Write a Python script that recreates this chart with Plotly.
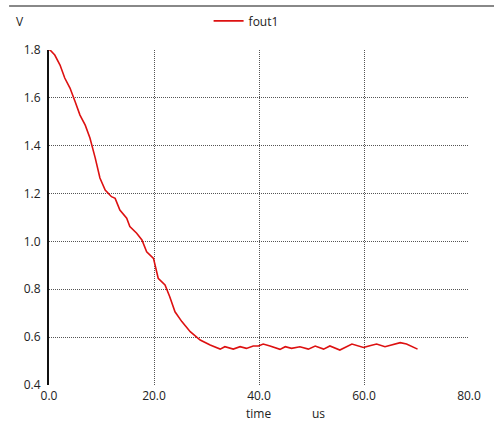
import plotly.graph_objects as go

time_us = [0.0, 0.2, 1.1, 2.1, 3.0, 4.0, 5.0, 5.9, 6.9, 7.8, 8.8, 9.7, 10.7, 11.9, 12.6, 13.5,
           14.8, 15.4, 16.7, 17.7, 18.6, 19.9, 20.8, 22.1, 23.0, 24.0, 25.3, 26.9, 28.8, 30.7,
           32.6, 33.5, 35.1, 36.4, 37.6, 38.9, 39.9, 40.8, 42.1, 44.0, 45.0, 46.2, 47.8, 49.4,
           50.7, 52.3, 53.5, 55.4, 57.7, 59.9, 61.1, 62.4, 64.0, 65.3, 66.9, 68.1, 69.7, 70.2]
fout1 = [1.80, 1.80, 1.779, 1.737, 1.683, 1.641, 1.583, 1.528, 1.486, 1.432, 1.349, 1.265, 1.215,
         1.187, 1.18, 1.131, 1.097, 1.062, 1.034, 1.006, 0.957, 0.929, 0.846, 0.818, 0.769, 0.706,
         0.665, 0.623, 0.588, 0.567, 0.550, 0.560, 0.550, 0.560, 0.553, 0.563, 0.563, 0.571, 0.563,
         0.549, 0.560, 0.553, 0.560, 0.550, 0.563, 0.550, 0.563, 0.546, 0.571, 0.557, 0.564, 0.571,
         0.560, 0.567, 0.577, 0.571, 0.553, 0.550]

x_ticks = [0, 20, 40, 60, 80]
x_tick_labels = ["0.0", "20.0", "40.0", "60.0", "80.0"]
y_ticks = [0.4, 0.6, 0.8, 1.0, 1.2, 1.4, 1.6, 1.8]
y_tick_labels = ["0.4", "0.6", "0.8", "1.0", "1.2", "1.4", "1.6", "1.8"]

FONT = "Open Sans"
TXT = "#222222"

fig = go.Figure()
fig.add_trace(go.Scatter(x=time_us, y=fout1, mode="lines", name="fout1",
                         line=dict(color="#dd1111", width=1.6)))

fig.update_layout(
    width=494, height=424,
    margin=dict(l=49, r=25, t=50, b=39, autoexpand=False),
    paper_bgcolor="white", plot_bgcolor="white",
    font=dict(family=FONT, size=12, color=TXT),
    showlegend=True,
    legend=dict(orientation="h", x=0.38, y=1.087, xanchor="left", yanchor="middle",
                font=dict(size=12, color=TXT), bgcolor="rgba(0,0,0,0)",
                itemwidth=30, tracegroupgap=0),
    xaxis=dict(range=[0, 80], tickvals=x_ticks, ticktext=x_tick_labels,
               showgrid=True, gridcolor="#555555", griddash="1px,1px", gridwidth=1,
               zeroline=False, showline=False, ticks="", ticklabelstandoff=2, fixedrange=True),
    yaxis=dict(range=[0.4, 1.8], tickvals=y_ticks, ticktext=y_tick_labels,
               showgrid=True, gridcolor="#555555", griddash="1px,1px", gridwidth=1,
               zeroline=False, showline=True, linecolor="#111111", linewidth=2,
               ticks="", ticklabelstandoff=4, fixedrange=True),
    shapes=[dict(type="line", xref="paper", yref="paper", x0=-0.095, x1=1.06,
                 y0=1.131, y1=1.131, layer="above", line=dict(color="#888888", width=2))],
    annotations=[
        dict(text="V", xref="paper", yref="paper", x=(20 - 49) / 420, y=(385 - 21) / 335,
             showarrow=False, xanchor="center", yanchor="middle", font=dict(size=12, color=TXT)),
        dict(text="time", xref="paper", yref="paper", x=(258 - 49) / 420, y=(385 - 413) / 335,
             showarrow=False, xanchor="center", yanchor="middle", font=dict(size=12, color=TXT)),
        dict(text="us", xref="paper", yref="paper", x=(318 - 49) / 420, y=(385 - 413) / 335,
             showarrow=False, xanchor="center", yanchor="middle", font=dict(size=12, color=TXT)),
    ],
)

fig.write_html("out.html", config={"displayModeBar": False},
               post_script="document.body.style.margin='0';document.body.style.overflow='hidden';")
